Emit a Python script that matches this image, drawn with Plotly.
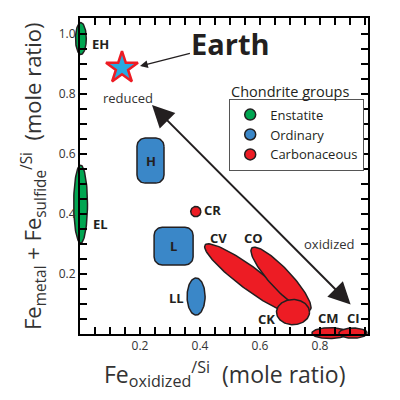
import numpy as np
import plotly.graph_objects as go

# Chondrite group fields, Fe_oxidized/Si (x) vs Fe_metal+Fe_sulfide/Si (y)
ell_names = ["EH", "EL", "LL", "CR", "CV", "CO", "CK", "CM", "CI"]
ell_group = ["Enstatite", "Enstatite", "Ordinary", "Carbonaceous", "Carbonaceous",
             "Carbonaceous", "Carbonaceous", "Carbonaceous", "Carbonaceous"]
ell_x = [0.003, 0.002, 0.387, 0.386, 0.567, 0.670, 0.710, 0.833, 0.910]
ell_y = [0.985, 0.433, 0.125, 0.408, 0.185, 0.183, 0.073, 0.003, 0.003]
ell_a = [0.018, 0.023, 0.030, 0.017, 0.187, 0.142, 0.055, 0.060, 0.047]
ell_b = [0.053, 0.130, 0.062, 0.017, 0.037, 0.035, 0.042, 0.018, 0.017]
ell_tilt = [0, 0, 0, 0, -36.7, -47, 0, 0, 0]

box_names = ["H", "L"]
box_group = ["Ordinary", "Ordinary"]
box_x = [0.235, 0.312]
box_y = [0.578, 0.293]
box_hw = [0.045, 0.065]
box_hh = [0.075, 0.063]

earth_x = [0.140]
earth_y = [0.887]

groups = ["Enstatite", "Ordinary", "Carbonaceous"]
group_colors = {"Enstatite": "#00a651", "Ordinary": "#3a87c8", "Carbonaceous": "#ed1c24"}

# axis ticks: labelled values plus unlabelled 0.05 steps
x_major = [0.2, 0.4, 0.6, 0.8]
y_major = [0.2, 0.4, 0.6, 0.8, 1.0]
x_minor_max = 0.95
y_minor_max = 1.0

# label anchors (data units)
lab_text = ["EH", "EL", "H", "L", "LL", "CR", "CV", "CO", "CK", "CM", "CI"]
lab_x = [0.070, 0.070, 0.235, 0.312, 0.320, 0.440, 0.460, 0.577, 0.620, 0.827, 0.913]
lab_y = [0.967, 0.367, 0.578, 0.293, 0.120, 0.413, 0.320, 0.320, 0.050, 0.053, 0.053]

# axis ranges: framed axes and the slightly larger drawing area
VIS_X = [0, 0.96]
VIS_Y = [0, 1.053]
DATA_X = [-0.0833, 1.0333]
DATA_Y = [-0.0533, 1.0867]

OUTLINE = "#231f20"
FONT = "Open Sans"


def ellipse(cx, cy, a, b, tilt):
    t = np.linspace(0, 2 * np.pi, 100)
    th = np.radians(tilt)
    x = cx + a * np.cos(t) * np.cos(th) - b * np.sin(t) * np.sin(th)
    y = cy + a * np.cos(t) * np.sin(th) + b * np.sin(t) * np.cos(th)
    return x, y


def rounded_box(cx, cy, hw, hh, r=0.027):
    xs, ys = [], []
    corners = [(cx + hw - r, cy + hh - r, 0), (cx - hw + r, cy + hh - r, 90),
               (cx - hw + r, cy - hh + r, 180), (cx + hw - r, cy - hh + r, 270)]
    for ccx, ccy, start in corners:
        t = np.radians(np.linspace(start, start + 90, 12))
        xs.extend(ccx + r * np.cos(t))
        ys.extend(ccy + r * np.sin(t))
    xs.append(xs[0])
    ys.append(ys[0])
    return xs, ys


def dom(vis, data):
    return [(v - data[0]) / (data[1] - data[0]) for v in vis]


def tick_set(major, top):
    vals = [round(0.05 * k, 2) for k in range(1, int(round(top / 0.05)) + 1)]
    text = ["%.1f" % v if any(abs(v - m) < 1e-9 for m in major) else "" for v in vals]
    return vals, text


fig = go.Figure()


def add_field(x, y, group):
    fig.add_trace(go.Scatter(x=x, y=y, mode="lines", fill="toself",
                             fillcolor=group_colors[group],
                             line=dict(color=OUTLINE, width=1.5),
                             showlegend=False, hoverinfo="skip"))


# enstatite first, then ordinary boxes, then the rest in drawing order
for i in range(2):
    add_field(*ellipse(ell_x[i], ell_y[i], ell_a[i], ell_b[i], ell_tilt[i]), ell_group[i])
for i in range(len(box_names)):
    add_field(*rounded_box(box_x[i], box_y[i], box_hw[i], box_hh[i]), box_group[i])
for i in range(2, len(ell_names)):
    add_field(*ellipse(ell_x[i], ell_y[i], ell_a[i], ell_b[i], ell_tilt[i]), ell_group[i])

# Earth
fig.add_trace(go.Scatter(x=earth_x, y=earth_y, mode="markers",
                         marker=dict(symbol="star", size=24, color="#27aae1",
                                     line=dict(color="#ed1c24", width=2.5)),
                         showlegend=False, cliponaxis=False))

# legend entries
for g in groups:
    fig.add_trace(go.Scatter(x=[None], y=[None], mode="markers", name=g,
                             marker=dict(size=11, color=group_colors[g],
                                         line=dict(color=OUTLINE, width=1.5))))

# empty trace so the framed axes get drawn
fig.add_trace(go.Scatter(x=[None], y=[None], xaxis="x2", yaxis="y2",
                         showlegend=False, hoverinfo="skip"))

xdom = dom(VIS_X, DATA_X)
ydom = dom(VIS_Y, DATA_Y)

annotations = []
for t, x, y in zip(lab_text, lab_x, lab_y):
    annotations.append(dict(x=x, y=y, xref="x", yref="y", text="<b>%s</b>" % t,
                            showarrow=False, font=dict(size=13, color=OUTLINE, family=FONT)))

annotations += [
    dict(x=0.20, y=0.893, xref="x", yref="y", ax=0.503, ay=0.970, axref="x", ayref="y",
         text="<b>Earth</b>", showarrow=True, arrowhead=2, arrowsize=1.2, arrowwidth=1.3,
         arrowcolor=OUTLINE, standoff=0, font=dict(size=29, color=OUTLINE, family=FONT)),
    dict(x=0.24, y=0.763, xref="x", yref="y", ax=0.907, ay=0.093, axref="x", ayref="y",
         text="", showarrow=True, arrowhead=2, arrowside="end+start", arrowsize=2.2,
         arrowwidth=2, arrowcolor=OUTLINE, standoff=0, startstandoff=0),
    dict(x=0.16, y=0.787, xref="x", yref="y", text="reduced", showarrow=False,
         font=dict(size=13, color="#333333", family=FONT)),
    dict(x=0.833, y=0.300, xref="x", yref="y", text="oxidized", showarrow=False,
         font=dict(size=13, color="#333333", family=FONT)),
    dict(x=0.52, y=0.757, xref="paper", yref="paper", xanchor="left", yanchor="middle",
         text="Chondrite groups", showarrow=False,
         font=dict(size=14.5, color=OUTLINE, family=FONT)),
    # axis titles
    dict(x=sum(xdom) / 2, y=-0.13, xref="paper", yref="paper", showarrow=False,
         text="Fe<sub>oxidized</sub><sup>/Si</sup> &nbsp;(mole ratio)",
         font=dict(size=23, color="#333333", family=FONT)),
    dict(x=-0.124, y=sum(ydom) / 2, xref="paper", yref="paper", showarrow=False,
         textangle=-90,
         text="Fe<sub>metal</sub> + Fe<sub>sulfide</sub><sup>/Si</sup> &nbsp;(mole ratio)",
         font=dict(size=22, color="#333333", family=FONT)),
]

xt_vals, xt_text = tick_set(x_major, x_minor_max)
yt_vals, yt_text = tick_set(y_major, y_minor_max)

axis_common = dict(showline=True, linewidth=2, linecolor="#000000", mirror="ticks",
                   ticks="inside", ticklen=7, tickwidth=2, tickcolor="#000000",
                   showgrid=False, zeroline=False, automargin=False,
                   tickfont=dict(size=12, color="#333333", family=FONT))

# the page body adds an 8 px offset, so the margins are shifted up/left by 8 px
fig.update_layout(
    template="none",
    width=400, height=400,
    margin=dict(l=47, r=18, t=0, b=58),
    paper_bgcolor="white", plot_bgcolor="rgba(0,0,0,0)",
    font=dict(family=FONT, color=OUTLINE),
    xaxis=dict(domain=[0, 1], range=DATA_X, visible=False, anchor="y"),
    yaxis=dict(domain=[0, 1], range=DATA_Y, visible=False, anchor="x"),
    xaxis2=dict(domain=xdom, range=VIS_X, anchor="y2",
                tickmode="array", tickvals=xt_vals, ticktext=xt_text, **axis_common),
    yaxis2=dict(domain=ydom, range=VIS_Y, anchor="x2",
                tickmode="array", tickvals=yt_vals, ticktext=yt_text, **axis_common),
    legend=dict(x=0.52, y=0.735, xanchor="left", yanchor="top",
                bgcolor="white", bordercolor="#555555", borderwidth=1,
                font=dict(size=13, color=OUTLINE, family=FONT)),
    annotations=annotations,
)

fig.write_html("out.html")
